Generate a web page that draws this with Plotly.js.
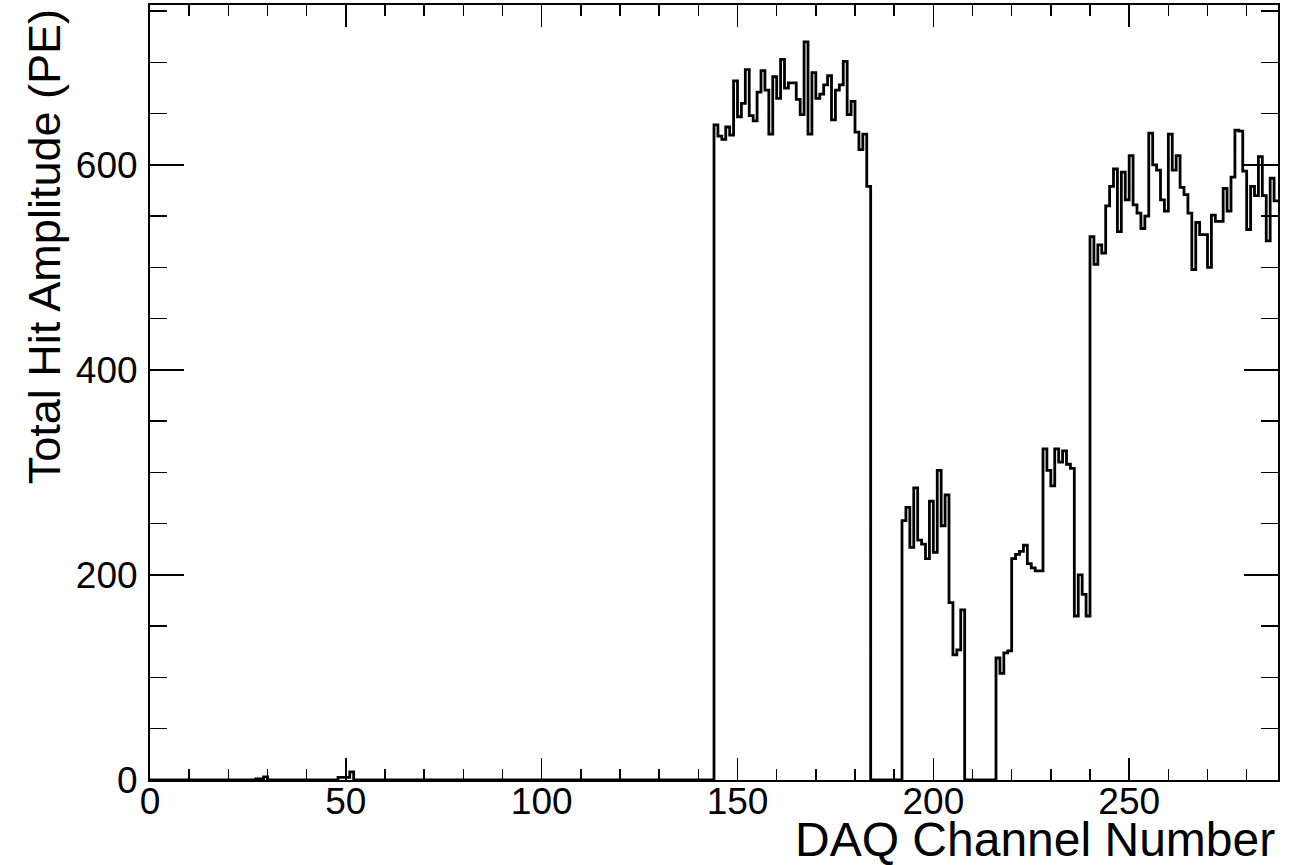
<!DOCTYPE html>
<html>
<head>
<meta charset="utf-8">
<script src="https://cdn.plot.ly/plotly-3.0.1.min.js"></script>
<style>
  html, body { margin: 0; padding: 0; background: #ffffff; }
  #chart { width: 1304px; height: 865px; }
</style>
</head>
<body>
<div id="chart"></div>
<script>
// ---- data ----
const nChannels = 288;

// small noise hits at low channels
const noiseChannels = [27, 28, 29, 48, 49, 50, 51];
const noiseValues   = [1, 1, 3, 2.5, 2.5, 2.5, 8];

// block A: channels 144..183
const blockAStart = 144;
const blockA = [639, 628, 625, 637, 629, 682, 647, 660, 693, 648,
                643, 671, 692, 673, 630, 686, 665, 703, 675, 680,
                680, 664, 649, 720, 630, 690, 665, 669, 678, 687,
                644, 673, 678, 701, 649, 662, 632, 615, 630, 579];

// block B: channels 192..207
const blockBStart = 192;
const blockB = [253, 266, 227, 285, 234, 230, 216, 272, 222, 302,
                248, 278, 173, 122, 127, 166];

// block C: channels 216..239
const blockCStart = 216;
const blockC = [119, 104, 124, 126, 216, 220, 223, 229, 211, 207,
                204, 204, 323, 302, 287, 323, 310, 321, 308, 304,
                160, 200, 181, 160];

// block D: channels 240..287
const blockDStart = 240;
const blockD = [530, 503, 522, 514, 560, 579, 596, 535, 593, 566,
                609, 561, 553, 538, 550, 631, 600, 595, 566, 555,
                630, 595, 609, 578, 571, 553, 498, 544, 532, 532,
                500, 551, 545, 545, 577, 555, 588, 634, 633, 594,
                537, 579, 570, 608, 570, 526, 587, 565];

const xTitle = "DAQ Channel Number";
const yTitle = "Total Hit Amplitude (PE)";

// ---- build histogram contents ----
const amplitude = new Array(nChannels).fill(0);
noiseChannels.forEach((c, i) => { amplitude[c] = noiseValues[i]; });
[[blockAStart, blockA], [blockBStart, blockB], [blockCStart, blockC], [blockDStart, blockD]]
  .forEach(([s, arr]) => arr.forEach((v, i) => { amplitude[s + i] = v; }));

// step outline: bin lower edges plus the final upper edge
const xs = [], ys = [];
for (let i = 0; i < nChannels; i++) { xs.push(i); ys.push(amplitude[i]); }
xs.push(nChannels); ys.push(amplitude[nChannels - 1]);

const trace = {
  type: 'scatter',
  mode: 'lines',
  x: xs,
  y: ys,
  line: { shape: 'hv', color: '#000000', width: 2.8 },
  hoverinfo: 'x+y',
  showlegend: false
};

const tickFont = { family: 'Liberation Sans, Arial, Helvetica, sans-serif', size: 37, color: '#000000' };

const layout = {
  width: 1304,
  height: 865,
  paper_bgcolor: '#ffffff',
  plot_bgcolor: '#ffffff',
  margin: { l: 150, r: 26, t: 5, b: 85, pad: 0 },
  showlegend: false,
  xaxis: {
    range: [0, 288],
    showgrid: false,
    zeroline: false,
    showline: true,
    linecolor: '#000000',
    linewidth: 2,
    mirror: 'ticks',
    ticks: 'inside',
    ticklen: 22,
    tickwidth: 1.5,
    tickcolor: '#000000',
    tick0: 0,
    dtick: 50,
    tickfont: tickFont,
    ticklabelstandoff: -12,
    minor: { ticks: 'inside', ticklen: 11, tickwidth: 1.5, tickcolor: '#000000', dtick: 10, showgrid: false }
  },
  yaxis: {
    range: [0, 756],
    showgrid: false,
    zeroline: false,
    showline: true,
    linecolor: '#000000',
    linewidth: 2,
    mirror: 'ticks',
    ticks: 'inside',
    ticklen: 34,
    tickwidth: 1.5,
    tickcolor: '#000000',
    tick0: 0,
    dtick: 200,
    tickfont: tickFont,
    ticklabelstandoff: 3,
    minor: { ticks: 'inside', ticklen: 17, tickwidth: 1.5, tickcolor: '#000000', dtick: 50, showgrid: false }
  },
  annotations: [
    {
      text: xTitle,
      xref: 'paper', yref: 'paper',
      x: 0.999, y: -0.113,
      xanchor: 'right', yanchor: 'bottom',
      showarrow: false,
      font: { family: 'Liberation Sans, Arial, Helvetica, sans-serif', size: 48, color: '#000000' }
    },
    {
      text: yTitle,
      xref: 'paper', yref: 'paper',
      x: -0.118, y: 0.997,
      xanchor: 'left', yanchor: 'top',
      textangle: -90,
      showarrow: false,
      font: { family: 'Liberation Sans, Arial, Helvetica, sans-serif', size: 45, color: '#000000' }
    }
  ]
};

Plotly.newPlot('chart', [trace], layout, { displayModeBar: false, staticPlot: true });
</script>
</body>
</html>
